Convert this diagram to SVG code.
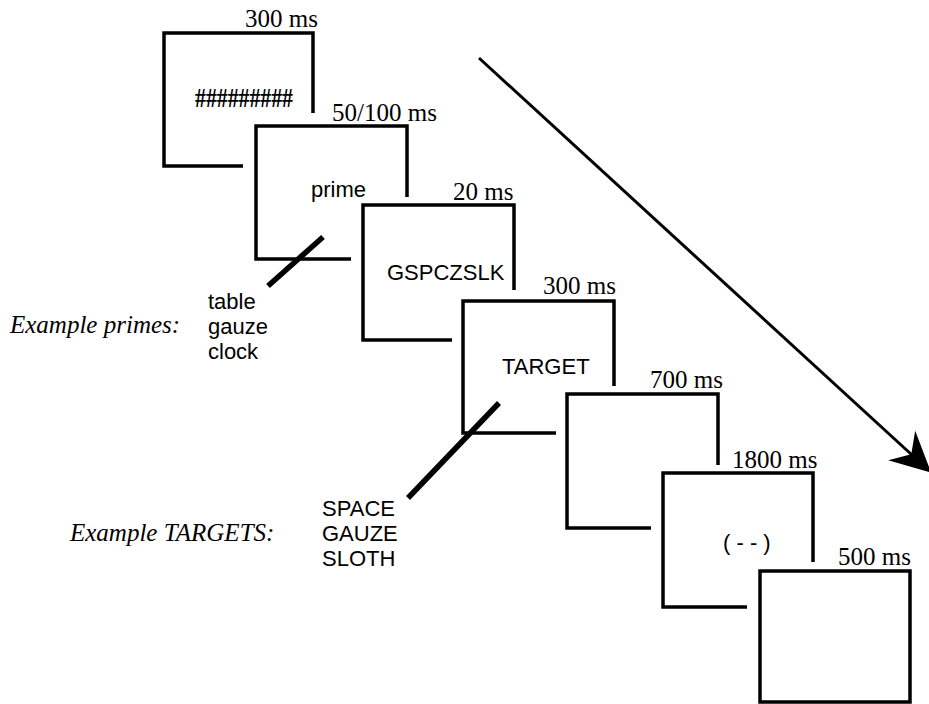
<svg xmlns="http://www.w3.org/2000/svg" width="929" height="704" viewBox="0 0 929 704">
<style>
.fr{fill:none;stroke:#000;stroke-width:3.5;stroke-linejoin:miter;stroke-linecap:butt}
.sl{stroke:#000;stroke-width:5.5;stroke-linecap:butt}
.tm{font-family:"Liberation Serif","Times New Roman",serif;font-size:25px;fill:#000}
.it{font-family:"Liberation Serif","Times New Roman",serif;font-size:25px;font-style:italic;fill:#000}
.sn{font-family:"Liberation Sans",Arial,sans-serif;font-size:22px;fill:#000}
</style>
<defs>
<marker id="ah" markerUnits="userSpaceOnUse" viewBox="0 0 40 40" refX="14" refY="20" markerWidth="40" markerHeight="40" orient="auto">
<path d="M0,0 L40,20 L0,40 L13,20 Z" fill="#000"/>
</marker>
</defs>
<rect width="929" height="704" fill="#fff"/>
<g id="connectors">
<line x1="479" y1="58" x2="912" y2="455" stroke="#000" stroke-width="3" marker-end="url(#ah)"/>
</g>
<g id="frame1">
<path class="fr" d="M243,166 H164 V33 H313 V113"/>
<text class="tm" x="245" y="27">300 ms</text>
<text class="tm" x="195" y="107" style="font-size:28px;font-weight:bold" textLength="98" lengthAdjust="spacingAndGlyphs">#########</text>
</g>
<g id="frame2">
<path class="fr" d="M351,259 H256 V126 H407 V197"/>
<text class="tm" x="332" y="121">50/100 ms</text>
<text class="sn" x="311" y="197">prime</text>
<line class="sl" x1="268" y1="286" x2="323" y2="237"/>
</g>
<g id="frame3">
<path class="fr" d="M452,340 H363 V205 H514 V290"/>
<text class="tm" x="453" y="200">20 ms</text>
<text class="sn" x="387" y="280">GSPCZSLK</text>
</g>
<g id="frame4">
<path class="fr" d="M556,433 H463 V301 H614 V386"/>
<text class="tm" x="543" y="294">300 ms</text>
<text class="sn" x="502" y="374">TARGET</text>
<line class="sl" x1="408" y1="498" x2="499" y2="403"/>
</g>
<g id="frame5">
<path class="fr" d="M651,528 H567 V394 H718 V465"/>
<text class="tm" x="650" y="388">700 ms</text>
</g>
<g id="frame6">
<path class="fr" d="M747,607 H663 V473 H813 V562"/>
<text class="tm" x="732" y="468">1800 ms</text>
<text class="sn" x="723" y="550">( - - )</text>
</g>
<g id="frame7">
<path class="fr" d="M760,702 V571 H910 V702 Z"/>
<text class="tm" x="838" y="565">500 ms</text>
</g>
<g id="primes">
<text class="it" x="10" y="333">Example primes:</text>
<text class="sn" x="208" y="309">table</text>
<text class="sn" x="208" y="334">gauze</text>
<text class="sn" x="208" y="359">clock</text>
</g>
<g id="targets">
<text class="it" x="70" y="541">Example TARGETS:</text>
<text class="sn" x="322" y="516">SPACE</text>
<text class="sn" x="322" y="541">GAUZE</text>
<text class="sn" x="322" y="566">SLOTH</text>
</g>
</svg>
